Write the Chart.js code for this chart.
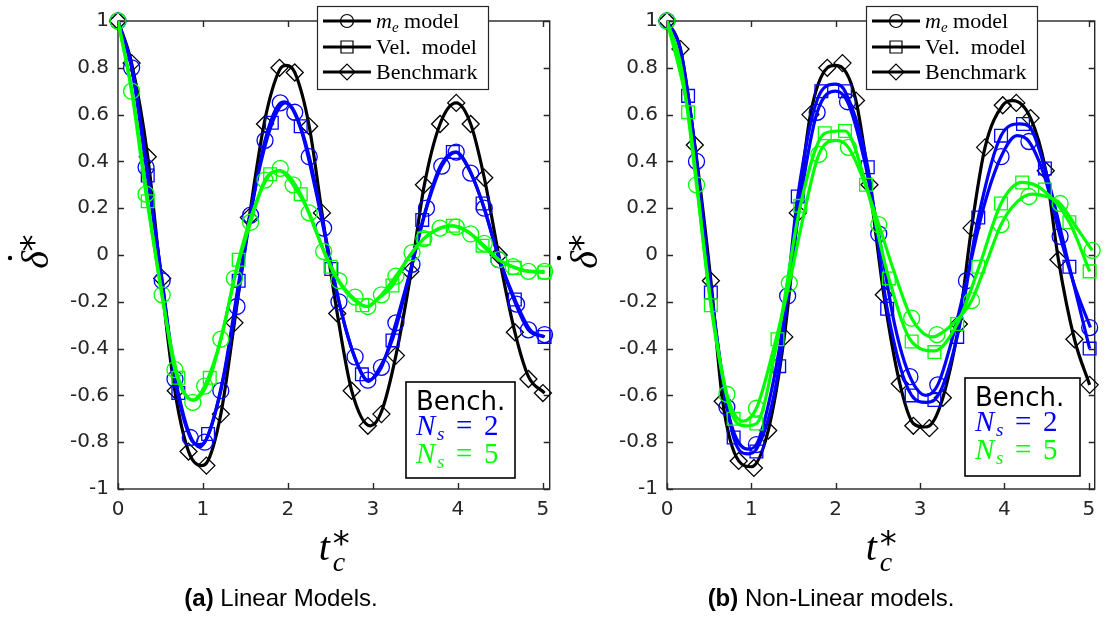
<!DOCTYPE html>
<html>
<head>
<meta charset="utf-8">
<script src="https://cdn.jsdelivr.net/npm/chart.js@4.4.0/dist/chart.umd.min.js"></script>
<style>
  html, body { margin: 0; padding: 0; background: #ffffff; }
  body { width: 1105px; height: 619px; position: relative; overflow: hidden; }
  #ca { position: absolute; left: 0; top: 0; }
  #cb { position: absolute; left: 549px; top: 0; }
</style>
</head>
<body>
<canvas id="ca" width="560" height="619"></canvas>
<canvas id="cb" width="556" height="619"></canvas>
<script>
// ---------- axes ----------
const xTicks = [0, 1, 2, 3, 4, 5];
const xTickLabels = ['0', '1', '2', '3', '4', '5'];
const yTicks = [-1, -0.8, -0.6, -0.4, -0.2, 0, 0.2, 0.4, 0.6, 0.8, 1];
const yTickLabels = ['-1', '-0.8', '-0.6', '-0.4', '-0.2', '0', '0.2', '0.4', '0.6', '0.8', '1'];

// ---------- panel (a): Linear models ----------
const aBenchLineT = [0,0.16,0.35,0.50,0.66,0.83,0.98,1.04,1.21,1.37,1.54,1.73,1.90,1.98,2.08,2.25,2.40,2.58,2.75,2.97,3.10,3.27,3.45,3.60,3.79,3.98,4.15,4.31,4.48,4.67,4.83,5.02];
const aBenchLineV = [1.00,0.82,0.42,-0.08,-0.56,-0.84,-0.90,-0.89,-0.68,-0.29,0.15,0.58,0.79,0.81,0.78,0.55,0.18,-0.25,-0.58,-0.73,-0.67,-0.43,-0.07,0.29,0.56,0.65,0.56,0.33,0.00,-0.33,-0.52,-0.59];
const aBenchMarkT = [0,0.16,0.35,0.52,0.68,0.83,1.04,1.21,1.37,1.54,1.73,1.90,2.08,2.25,2.40,2.58,2.75,2.94,3.10,3.27,3.44,3.60,3.79,3.98,4.15,4.31,4.48,4.67,4.83,5.00];
const aBenchMarkV = [1.00,0.82,0.42,-0.10,-0.58,-0.84,-0.90,-0.68,-0.29,0.16,0.56,0.80,0.78,0.55,0.18,-0.25,-0.58,-0.73,-0.68,-0.43,-0.07,0.30,0.56,0.65,0.56,0.33,0.00,-0.33,-0.53,-0.59];

const aMe2LineT = [0,0.16,0.33,0.52,0.67,0.85,0.96,1.02,1.21,1.40,1.56,1.73,1.91,1.96,2.08,2.25,2.42,2.60,2.79,2.94,3.10,3.27,3.46,3.63,3.81,3.98,4.15,4.31,4.48,4.67,4.83,5.02];
const aMe2LineV = [1.00,0.80,0.38,-0.11,-0.53,-0.78,-0.81,-0.80,-0.58,-0.20,0.17,0.49,0.65,0.655,0.61,0.42,0.12,-0.20,-0.44,-0.535,-0.48,-0.29,-0.04,0.20,0.38,0.44,0.35,0.20,-0.01,-0.20,-0.32,-0.35];
const aMe2MarkT = [0,0.16,0.33,0.52,0.67,0.85,1.02,1.21,1.40,1.56,1.73,1.91,2.08,2.25,2.42,2.60,2.79,2.94,3.10,3.27,3.46,3.63,3.81,3.98,4.15,4.31,4.48,4.69,4.83,5.02];
const aMe2MarkV = [1.00,0.80,0.375,-0.11,-0.53,-0.78,-0.80,-0.58,-0.22,0.17,0.49,0.65,0.61,0.42,0.115,-0.20,-0.435,-0.535,-0.48,-0.29,-0.04,0.20,0.38,0.44,0.35,0.20,-0.02,-0.21,-0.32,-0.34];

const aVel2LineT = [0,0.17,0.35,0.52,0.71,0.96,1.06,1.24,1.42,1.60,1.81,1.97,2.15,2.33,2.51,2.69,2.87,2.95,3.05,3.23,3.40,3.58,3.78,3.97,4.13,4.29,4.48,4.67,4.85,5.02];
const aVel2LineV = [1.00,0.79,0.35,-0.12,-0.59,-0.82,-0.77,-0.52,-0.12,0.26,0.56,0.65,0.54,0.27,-0.05,-0.33,-0.51,-0.54,-0.50,-0.36,-0.13,0.14,0.37,0.44,0.37,0.22,-0.01,-0.19,-0.32,-0.35];
const aVel2MarkT = [0.35,0.71,1.06,1.42,1.81,2.15,2.51,2.87,3.23,3.58,3.94,4.29,4.67,5.02];
const aVel2MarkV = [0.34,-0.59,-0.765,-0.11,0.565,0.55,-0.06,-0.51,-0.365,0.15,0.44,0.22,-0.19,-0.35];

const aMe5LineT = [0,0.16,0.33,0.52,0.67,0.88,1.02,1.21,1.37,1.56,1.73,1.90,2.06,2.25,2.42,2.60,2.79,2.92,3.10,3.27,3.46,3.60,3.79,3.92,4.15,4.31,4.48,4.65,4.83,5.02];
const aMe5LineV = [1.00,0.70,0.26,-0.17,-0.49,-0.62,-0.56,-0.36,-0.10,0.14,0.32,0.36,0.30,0.18,0.02,-0.11,-0.19,-0.22,-0.17,-0.09,0.01,0.07,0.115,0.125,0.09,0.04,-0.02,-0.05,-0.07,-0.07];
const aMe5MarkT = [0,0.16,0.33,0.52,0.67,0.88,1.02,1.21,1.37,1.56,1.73,1.91,2.06,2.25,2.42,2.60,2.79,2.94,3.10,3.27,3.46,3.60,3.79,3.98,4.15,4.31,4.48,4.65,4.83,5.02];
const aMe5MarkV = [1.00,0.70,0.26,-0.17,-0.49,-0.63,-0.56,-0.36,-0.10,0.14,0.32,0.37,0.30,0.18,0.015,-0.11,-0.18,-0.22,-0.17,-0.09,0.01,0.07,0.115,0.12,0.09,0.05,-0.02,-0.05,-0.07,-0.07];

const aVel5LineT = [0,0.17,0.35,0.52,0.71,0.89,1.08,1.25,1.42,1.60,1.79,1.91,2.15,2.33,2.50,2.69,2.875,2.95,3.05,3.23,3.42,3.60,3.80,3.95,4.12,4.29,4.48,4.67,4.85,5.02];
const aVel5LineV = [1.00,0.69,0.23,-0.18,-0.525,-0.62,-0.525,-0.30,-0.02,0.20,0.345,0.36,0.26,0.10,-0.05,-0.16,-0.215,-0.22,-0.19,-0.13,-0.01,0.07,0.115,0.125,0.10,0.04,-0.02,-0.055,-0.07,-0.075];
const aVel5MarkT = [0.35,0.71,1.08,1.42,1.79,2.15,2.50,2.875,3.23,3.60,3.94,4.29,4.67,5.02];
const aVel5MarkV = [0.23,-0.525,-0.525,-0.02,0.345,0.26,-0.05,-0.215,-0.13,0.07,0.125,0.04,-0.055,-0.075];

// ---------- panel (b): Non-Linear models ----------
const bBenchLineT = [0,0.16,0.33,0.52,0.66,0.85,1.00,1.20,1.39,1.55,1.70,1.90,1.99,2.08,2.24,2.40,2.57,2.76,2.92,3.05,3.11,3.27,3.46,3.61,3.77,3.98,4.10,4.31,4.49,4.64,4.83,5.01];
const bBenchLineV = [1.00,0.88,0.47,-0.11,-0.625,-0.88,-0.905,-0.75,-0.35,0.18,0.60,0.80,0.81,0.80,0.66,0.30,-0.17,-0.55,-0.72,-0.735,-0.73,-0.61,-0.295,0.115,0.46,0.64,0.66,0.585,0.36,-0.02,-0.36,-0.555];
const bBenchMarkT = [0,0.16,0.33,0.52,0.66,0.85,1.03,1.20,1.39,1.55,1.70,1.90,2.08,2.24,2.40,2.57,2.76,2.92,3.11,3.27,3.46,3.61,3.77,3.98,4.14,4.31,4.49,4.64,4.83,5.01];
const bBenchMarkV = [1.00,0.88,0.47,-0.11,-0.625,-0.88,-0.91,-0.75,-0.35,0.18,0.60,0.80,0.82,0.66,0.30,-0.17,-0.55,-0.73,-0.74,-0.61,-0.295,0.115,0.46,0.64,0.65,0.585,0.36,-0.02,-0.36,-0.555];

const bMe2LineT = [0,0.17,0.35,0.52,0.71,0.96,1.06,1.25,1.43,1.60,1.78,2.00,2.14,2.33,2.51,2.70,2.88,3.07,3.21,3.38,3.55,3.75,3.96,4.15,4.29,4.48,4.66,4.83,5.02];
const bMe2LineV = [1.00,0.86,0.40,-0.14,-0.65,-0.83,-0.81,-0.56,-0.175,0.28,0.61,0.70,0.655,0.42,0.09,-0.30,-0.52,-0.60,-0.555,-0.36,-0.11,0.20,0.42,0.51,0.485,0.33,0.08,-0.13,-0.31];
const bMe2MarkT = [0,0.35,0.71,1.06,1.43,1.78,2.14,2.51,2.88,3.21,3.55,3.96,4.29,4.66,5.01];
const bMe2MarkV = [1.00,0.40,-0.65,-0.81,-0.175,0.61,0.655,0.09,-0.52,-0.555,-0.11,0.42,0.485,0.08,-0.31];

const bVel2LineT = [0,0.25,0.52,0.79,0.96,1.06,1.33,1.55,1.83,2.00,2.11,2.38,2.61,2.90,3.07,3.17,3.44,3.69,3.96,4.18,4.29,4.48,4.77,5.01];
const bVel2LineV = [1.00,0.68,-0.16,-0.78,-0.85,-0.83,-0.475,0.25,0.70,0.73,0.70,0.375,-0.23,-0.60,-0.63,-0.62,-0.35,0.16,0.51,0.56,0.55,0.37,-0.05,-0.40];
const bVel2MarkT = [0.25,0.52,0.79,1.06,1.33,1.55,1.83,2.11,2.38,2.61,2.90,3.17,3.44,3.69,3.96,4.22,4.48,4.77,5.01];
const bVel2MarkV = [0.68,-0.16,-0.78,-0.84,-0.475,0.25,0.70,0.70,0.375,-0.23,-0.60,-0.62,-0.35,0.16,0.51,0.56,0.37,-0.05,-0.40];

const bMe5LineT = [0,0.17,0.35,0.52,0.71,0.90,1.06,1.25,1.45,1.62,1.80,2.01,2.15,2.33,2.51,2.70,2.90,3.15,3.20,3.40,3.61,3.78,3.96,4.13,4.33,4.50,4.66,4.85,5.04];
const bMe5LineV = [1.00,0.80,0.30,-0.20,-0.595,-0.71,-0.655,-0.42,-0.12,0.17,0.43,0.49,0.46,0.32,0.13,-0.08,-0.27,-0.35,-0.345,-0.29,-0.195,-0.04,0.13,0.22,0.26,0.25,0.22,0.12,0.02];
const bMe5MarkT = [0,0.35,0.71,1.06,1.45,1.80,2.15,2.51,2.90,3.20,3.61,3.96,4.29,4.66,5.04];
const bMe5MarkV = [1.00,0.30,-0.595,-0.655,-0.12,0.43,0.46,0.13,-0.27,-0.34,-0.195,0.13,0.25,0.22,0.02];

const bVel5LineT = [0,0.25,0.52,0.75,0.93,1.06,1.31,1.58,1.87,2.03,2.11,2.36,2.63,2.90,3.17,3.44,3.70,3.96,4.21,4.45,4.77,5.01];
const bVel5LineV = [1.00,0.61,-0.215,-0.66,-0.73,-0.72,-0.36,0.21,0.52,0.53,0.53,0.30,-0.10,-0.37,-0.41,-0.295,-0.05,0.22,0.31,0.28,0.14,-0.07];
const bVel5MarkT = [0.25,0.52,0.79,1.06,1.31,1.58,1.87,2.11,2.36,2.63,2.90,3.17,3.44,3.69,3.96,4.21,4.48,4.77,5.01];
const bVel5MarkV = [0.61,-0.215,-0.70,-0.72,-0.36,0.21,0.52,0.53,0.30,-0.10,-0.37,-0.415,-0.295,-0.05,0.22,0.31,0.28,0.14,-0.07];

// ---------- colours / texts ----------
const BLACK = '#000000', BLUE = '#0000ff', GREEN = '#00ff00', AXIS = '#262626';
const legendEntries = [
  { style: 'circle', main: 'm', sub: 'e', rest: ' model' },
  { style: 'rect', main: '', sub: '', rest: 'Vel.  model' },
  { style: 'rectRot', main: '', sub: '', rest: 'Benchmark' }
];
const boxTitle = 'Bench.';
const boxRows = [{ n: '2', color: BLUE }, { n: '5', color: GREEN }];
const captions = [{ tag: '(a)', text: ' Linear Models.' }, { tag: '(b)', text: ' Non-Linear models.' }];

Chart.defaults.font.family = '"DejaVu Sans", sans-serif';
Chart.defaults.color = AXIS;

function pts(T, V) { return T.map((t, i) => ({ x: t, y: V[i] })); }
function lineDs(T, V, color) {
  return { data: pts(T, V), showLine: true, borderColor: color, backgroundColor: color, borderWidth: 3.2,
           pointRadius: 0, pointHoverRadius: 0, cubicInterpolationMode: 'monotone', fill: false };
}
function markDs(T, V, color, style, r) {
  return { data: pts(T, V), showLine: false, pointStyle: style, pointRadius: r, pointHoverRadius: r,
           pointBorderWidth: 1.3, pointBorderColor: color, borderColor: color,
           pointBackgroundColor: 'rgba(0,0,0,0)', backgroundColor: 'rgba(0,0,0,0)', clip: false };
}

function drawMarker(ctx, style, x, y) {
  ctx.beginPath();
  if (style === 'circle') { ctx.arc(x, y, 6.5, 0, Math.PI * 2); }
  else if (style === 'rect') { ctx.rect(x - 6, y - 6, 12, 12); }
  else { ctx.moveTo(x - 8, y); ctx.lineTo(x, y - 8); ctx.lineTo(x + 8, y); ctx.lineTo(x, y + 8); ctx.closePath(); }
  ctx.stroke();
}

const framePlugin = {
  id: 'frame',
  beforeDatasetsDraw(chart) {
    const { ctx, chartArea: a, scales: { x, y } } = chart;
    ctx.save();
    ctx.strokeStyle = AXIS; ctx.lineWidth = 1.4;
    ctx.strokeRect(a.left, a.top, a.right - a.left, a.bottom - a.top);
    const L = 6;
    ctx.beginPath();
    xTicks.forEach(t => {
      const px = Math.round(x.getPixelForValue(t)) + 0.5;
      ctx.moveTo(px, a.bottom); ctx.lineTo(px, a.bottom - L);
      ctx.moveTo(px, a.top); ctx.lineTo(px, a.top + L);
    });
    yTicks.forEach(v => {
      const py = Math.round(y.getPixelForValue(v)) + 0.5;
      ctx.moveTo(a.left, py); ctx.lineTo(a.left + L, py);
      ctx.moveTo(a.right, py); ctx.lineTo(a.right - L, py);
    });
    ctx.stroke();
    ctx.restore();
  },
  afterDraw(chart, args, o) {
    const { ctx, chartArea: a } = chart;
    ctx.save();
    // ----- legend box -----
    const lx = a.left + 199, ly = 6, lw = 171, lh = 83;
    ctx.fillStyle = '#ffffff'; ctx.fillRect(lx, ly, lw, lh);
    ctx.strokeStyle = AXIS; ctx.lineWidth = 1.2; ctx.strokeRect(lx + 0.5, ly + 0.5, lw, lh);
    const rowsY = [21, 47, 72];
    legendEntries.forEach((e, i) => {
      const yy = rowsY[i];
      ctx.strokeStyle = BLACK; ctx.lineWidth = 3;
      ctx.beginPath(); ctx.moveTo(lx + 6, yy); ctx.lineTo(lx + 54, yy); ctx.stroke();
      ctx.lineWidth = 1.2; drawMarker(ctx, e.style, lx + 30, yy);
      ctx.fillStyle = BLACK; ctx.textAlign = 'left'; ctx.textBaseline = 'alphabetic';
      let tx = lx + 59;
      if (e.main) {
        ctx.font = 'italic 22px "Liberation Serif"'; ctx.fillText(e.main, tx, yy + 7); tx += ctx.measureText(e.main).width;
        ctx.font = 'italic 15px "Liberation Serif"'; ctx.fillText(e.sub, tx, yy + 11); tx += ctx.measureText(e.sub).width;
      }
      ctx.font = '22px "Liberation Serif"'; ctx.fillText(e.rest, tx, yy + 7);
    });
    // ----- annotation box -----
    const bx = a.left + o.boxDx, by = o.boxTop, bw = o.boxW, bh = o.boxH;
    ctx.fillStyle = '#ffffff'; ctx.fillRect(bx, by, bw, bh);
    ctx.strokeStyle = BLACK; ctx.lineWidth = 1.6; ctx.strokeRect(bx, by, bw, bh);
    ctx.fillStyle = BLACK; ctx.font = '26px "DejaVu Sans"'; ctx.textAlign = 'left';
    ctx.fillText(boxTitle, bx + o.textDx, by + 28);
    boxRows.forEach((r, i) => {
      const base = by + 53 + i * 28;
      const x0 = bx + o.textDx;
      ctx.fillStyle = r.color;
      ctx.font = 'italic 29px "Liberation Serif"'; ctx.fillText('N', x0, base);
      ctx.font = 'italic 19px "Liberation Serif"'; ctx.fillText('s', x0 + 21, base + 5);
      ctx.font = '29px "Liberation Serif"'; ctx.fillText('=', x0 + 40, base);
      ctx.fillText(r.n, x0 + 68, base);
    });
    // ----- y label (rotated) -----
    ctx.save();
    ctx.translate(a.left - 70, 260);
    ctx.rotate(-Math.PI / 2);
    ctx.fillStyle = BLACK; ctx.textAlign = 'center'; ctx.textBaseline = 'alphabetic';
    ctx.font = 'italic 38px "Liberation Serif"'; ctx.fillText('\u03B4', 0, 0);
    ctx.beginPath(); ctx.arc(2, -38, 2.2, 0, Math.PI * 2); ctx.fill();
    ctx.font = '34px "DejaVu Sans"'; ctx.fillText('*', 17, -3);
    ctx.restore();
    // ----- x label -----
    const cx = (a.left + a.right) / 2;
    ctx.fillStyle = BLACK; ctx.textAlign = 'left'; ctx.textBaseline = 'alphabetic';
    ctx.font = 'italic 40px "Liberation Serif"'; ctx.fillText('t', cx - 15, 560);
    ctx.font = 'italic 28px "Liberation Serif"'; ctx.fillText('c', cx - 1, 571);
    ctx.font = '34px "DejaVu Sans"'; ctx.fillText('*', cx - 1, 555);
    // ----- caption -----
    const cap = captions[o.capIndex];
    ctx.font = 'bold 24px "Liberation Sans"'; const w1 = ctx.measureText(cap.tag).width;
    ctx.font = '24px "Liberation Sans"'; const w2 = ctx.measureText(cap.text).width;
    const sx = o.capCenter - (w1 + w2) / 2;
    ctx.fillStyle = BLACK;
    ctx.font = 'bold 24px "Liberation Sans"'; ctx.fillText(cap.tag, sx, 606);
    ctx.font = '24px "Liberation Sans"'; ctx.fillText(cap.text, sx + w1, 606);
    ctx.restore();
  }
};

function makeChart(id, sets, cfg) {
  const datasets = [
    markDs(sets.me5MT, sets.me5MV, GREEN, 'circle', 8), lineDs(sets.me5LT, sets.me5LV, GREEN),
    markDs(sets.vel5MT, sets.vel5MV, GREEN, 'rect', 9), lineDs(sets.vel5LT, sets.vel5LV, GREEN),
    markDs(sets.me2MT, sets.me2MV, BLUE, 'circle', 8), lineDs(sets.me2LT, sets.me2LV, BLUE),
    markDs(sets.vel2MT, sets.vel2MV, BLUE, 'rect', 9), lineDs(sets.vel2LT, sets.vel2LV, BLUE),
    markDs(sets.benchMT, sets.benchMV, BLACK, 'rectRot', 8.5), lineDs(sets.benchLT, sets.benchLV, BLACK)
  ];
  return new Chart(document.getElementById(id), {
    type: 'scatter',
    data: { datasets },
    options: {
      responsive: false, animation: false, events: [],
      layout: { padding: { left: 0, top: 15, right: cfg.padRight, bottom: 0 } },
      plugins: { legend: { display: false }, tooltip: { enabled: false }, frame: cfg },
      scales: {
        x: {
          type: 'linear', min: 0, max: cfg.xMax,
          afterBuildTicks: s => { s.ticks = xTicks.map(v => ({ value: v })); },
          afterFit: s => { s.height = 130; },
          grid: { display: false, drawTicks: false }, border: { display: false },
          ticks: { padding: 9, color: AXIS, font: { size: 20 }, maxRotation: 0, callback: (v, i) => xTickLabels[i] }
        },
        y: {
          type: 'linear', min: -1, max: 1,
          afterBuildTicks: s => { s.ticks = yTicks.map(v => ({ value: v })); },
          afterFit: s => { s.width = 118; },
          grid: { display: false, drawTicks: false }, border: { display: false },
          ticks: { padding: 9, color: AXIS, font: { size: 20 }, callback: (v, i) => yTickLabels[i] }
        }
      }
    },
    plugins: [framePlugin]
  });
}

makeChart('ca', {
  benchLT: aBenchLineT, benchLV: aBenchLineV, benchMT: aBenchMarkT, benchMV: aBenchMarkV,
  me2LT: aMe2LineT, me2LV: aMe2LineV, me2MT: aMe2MarkT, me2MV: aMe2MarkV,
  vel2LT: aVel2LineT, vel2LV: aVel2LineV, vel2MT: aVel2MarkT, vel2MV: aVel2MarkV,
  me5LT: aMe5LineT, me5LV: aMe5LineV, me5MT: aMe5MarkT, me5MV: aMe5MarkV,
  vel5LT: aVel5LineT, vel5LV: aVel5LineV, vel5MT: aVel5MarkT, vel5MV: aVel5MarkV
}, { xMax: 5.08, padRight: 6.4, boxDx: 288, boxTop: 382, boxW: 109, boxH: 96, textDx: 10, capIndex: 0, capCenter: 281 });

makeChart('cb', {
  benchLT: bBenchLineT, benchLV: bBenchLineV, benchMT: bBenchMarkT, benchMV: bBenchMarkV,
  me2LT: bMe2LineT, me2LV: bMe2LineV, me2MT: bMe2MarkT, me2MV: bMe2MarkV,
  vel2LT: bVel2LineT, vel2LV: bVel2LineV, vel2MT: bVel2MarkT, vel2MV: bVel2MarkV,
  me5LT: bMe5LineT, me5LV: bMe5LineV, me5MT: bMe5MarkT, me5MV: bMe5MarkV,
  vel5LT: bVel5LineT, vel5LV: bVel5LineV, vel5MT: bVel5MarkT, vel5MV: bVel5MarkV
}, { xMax: 5.07, padRight: 5, boxDx: 298, boxTop: 378, boxW: 115, boxH: 98, textDx: 10, capIndex: 1, capCenter: 282 });
</script>
</body>
</html>
